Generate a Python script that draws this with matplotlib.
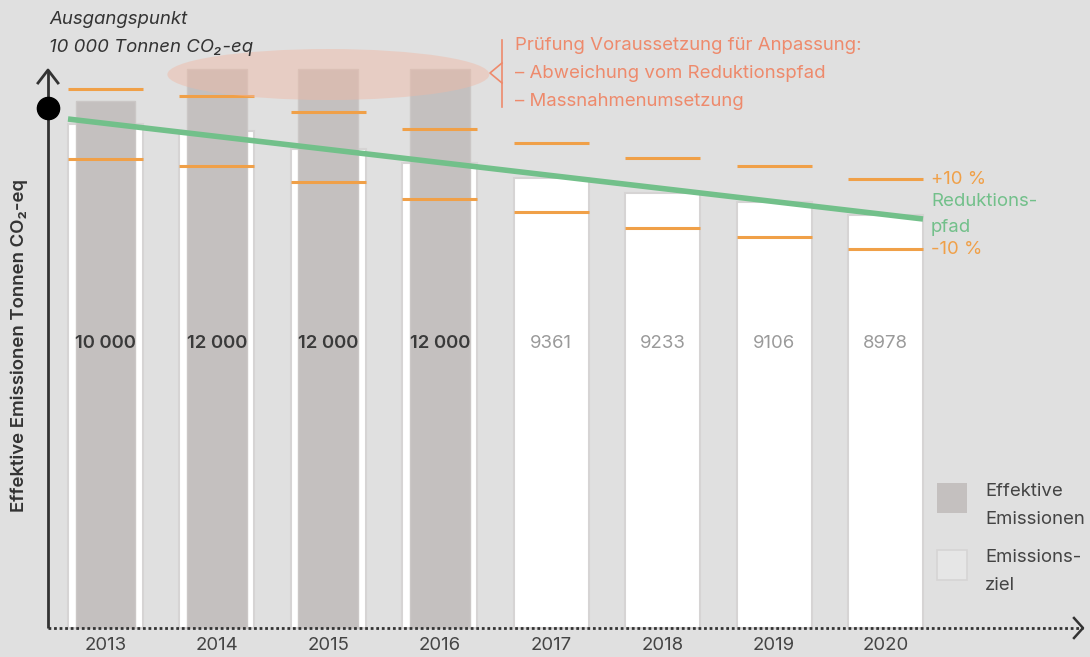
import matplotlib
matplotlib.use("Agg")
import matplotlib.pyplot as plt
from matplotlib.patches import Ellipse, Rectangle
from matplotlib.lines import Line2D

plt.rcParams['font.family'] = ['Inter', 'DejaVu Sans']

# Daten (Hoehen schematisch; Basislinie = 0)
jahre = [2013, 2014, 2015, 2016, 2017, 2018, 2019, 2020]
hoehe_ziel = [504, 497, 479, 465, 450, 435, 426, 413]
band_oben = [539, 532, 516, 499, 485, 470, 462, 449]
band_unten = [469, 462, 446, 429, 416, 400, 391, 379]
jahre_effektiv = [2013, 2014, 2015, 2016]
hoehe_effektiv = [527, 559, 559, 559]
label_effektiv = ["10 000", "12 000", "12 000", "12 000"]
jahre_ziel_label = [2017, 2018, 2019, 2020]
label_ziel = ["9361", "9233", "9106", "8978"]
pfad_hoehe = [509, 409]   # Reduktionspfad Anfang / Ende
start_hoehe = 520         # Ausgangspunkt

W, H = 1090, 657
bg = '#e0e0e0'
orange = '#f0a048'
green = '#72c08a'
salmon = '#ee8a6c'
dark = '#333333'
fs = 13.4

fig = plt.figure(figsize=(W / 100, H / 100), dpi=100, facecolor=bg)
ax = fig.add_axes([0, 0, 1, 1], facecolor=bg)
step = 111.43
x0 = 2013 - 105.5 / step
x1 = 2013 + (W - 105.5) / step
ax.set_xlim(x0, x1)
ax.set_ylim(628 - H, 628)
ax.axis('off')

def fx(px):
    return px / W

def fy(py):
    return 1 - py / H

bw = 0.673
gw = 0.538
ax.bar(jahre, hoehe_ziel, width=bw, color='white', edgecolor='#d6d4d4', linewidth=1.5, zorder=2)
ax.bar(jahre_effektiv, hoehe_effektiv, width=gw, color='#c4c0bf', edgecolor='#cbc7c6', linewidth=1, zorder=3)
ax.hlines(band_oben, [j - bw / 2 for j in jahre], [j + bw / 2 for j in jahre], color=orange, lw=2.2, zorder=4)
ax.hlines(band_unten, [j - bw / 2 for j in jahre], [j + bw / 2 for j in jahre], color=orange, lw=2.2, zorder=4)
ax.plot([jahre[0] - bw / 2, jahre[-1] + bw / 2], pfad_hoehe, color=green, lw=4, zorder=5, solid_capstyle='butt')

for j, t in zip(jahre_effektiv, label_effektiv):
    ax.text(j, 285, t, ha='center', va='center', fontsize=fs, fontweight='semibold', color='#3a3a3a', zorder=6)
for j, t in zip(jahre_ziel_label, label_ziel):
    ax.text(j, 285, t, ha='center', va='center', fontsize=fs, color='#9a9a9a', zorder=6)

# Ellipse ueber den Balken
ax.add_patch(Ellipse((2015, 553.5), 322 / step, 51, facecolor='#f0b8a4', alpha=0.45, edgecolor='none', zorder=7))

# Achsen
ax_x = 2013 - 57.5 / step
ax.plot([ax_x, ax_x], [0, 557], color=dark, lw=2, zorder=8, solid_capstyle='butt')
ax.plot([ax_x - 10 / step, ax_x, ax_x + 10 / step], [545, 558, 545], color=dark, lw=2, zorder=8)
ax.plot(ax_x, start_hoehe, 'o', color='black', markersize=16, zorder=9)
x_end = 2013 + (1083 - 105.5) / step
ax.plot([ax_x, x_end], [0, 0], color=dark, lw=2, linestyle=(0, (1, 1)), zorder=8)
ax.plot([x_end - 9 / step, x_end, x_end - 9 / step], [10, 0, -10], color=dark, lw=1.8, zorder=8)

for j in jahre:
    ax.text(j, -17, str(j), ha='center', va='center', fontsize=fs, color='#444444')

# Texte
fig.text(fx(49), fy(20), "Ausgangspunkt", fontsize=fs, style='italic', color=dark, va='center')
fig.text(fx(49), fy(48), "10 000 Tonnen CO₂-eq", fontsize=fs, style='italic', color=dark, va='center')

fig.text(fx(515), fy(46), "Prüfung Voraussetzung für Anpassung:", fontsize=fs, color=salmon, va='center')
fig.text(fx(515), fy(74), "– Abweichung vom Reduktionspfad", fontsize=fs, color=salmon, va='center')
fig.text(fx(515), fy(101), "– Massnahmenumsetzung", fontsize=fs, color=salmon, va='center')
fig.add_artist(Line2D([fx(502), fx(502)], [fy(40), fy(107)], color=salmon, lw=1.2))
fig.add_artist(Line2D([fx(502), fx(490), fx(502)], [fy(63), fy(73), fy(83)], color=salmon, lw=1.2))

fig.text(fx(931), fy(180), "+10 %", fontsize=fs, color=orange, va='center')
fig.text(fx(931), fy(201), "Reduktions-", fontsize=fs, color=green, va='center')
fig.text(fx(931), fy(228), "pfad", fontsize=fs, color=green, va='center')
fig.text(fx(931), fy(249), "-10 %", fontsize=fs, color=orange, va='center')

fig.text(fx(19), fy(345), "Effektive Emissionen Tonnen CO₂-eq", fontsize=fs, rotation=90,
         color=dark, ha='center', va='center', fontweight='semibold')

# Legende
fig.add_artist(Rectangle((fx(937), fy(513)), 30 / W, 30 / H, facecolor='#c4c0bf', edgecolor='none'))
fig.add_artist(Rectangle((fx(937), fy(580)), 30 / W, 30 / H, facecolor='#e6e6e6', edgecolor='#d6d4d4', lw=1.2))
fig.text(fx(985), fy(492), "Effektive", fontsize=fs, color='#444444', va='center')
fig.text(fx(985), fy(520), "Emissionen", fontsize=fs, color='#444444', va='center')
fig.text(fx(985), fy(558), "Emissions-", fontsize=fs, color='#444444', va='center')
fig.text(fx(985), fy(585), "ziel", fontsize=fs, color='#444444', va='center')

fig.savefig('out.png', dpi=100, facecolor=bg)
